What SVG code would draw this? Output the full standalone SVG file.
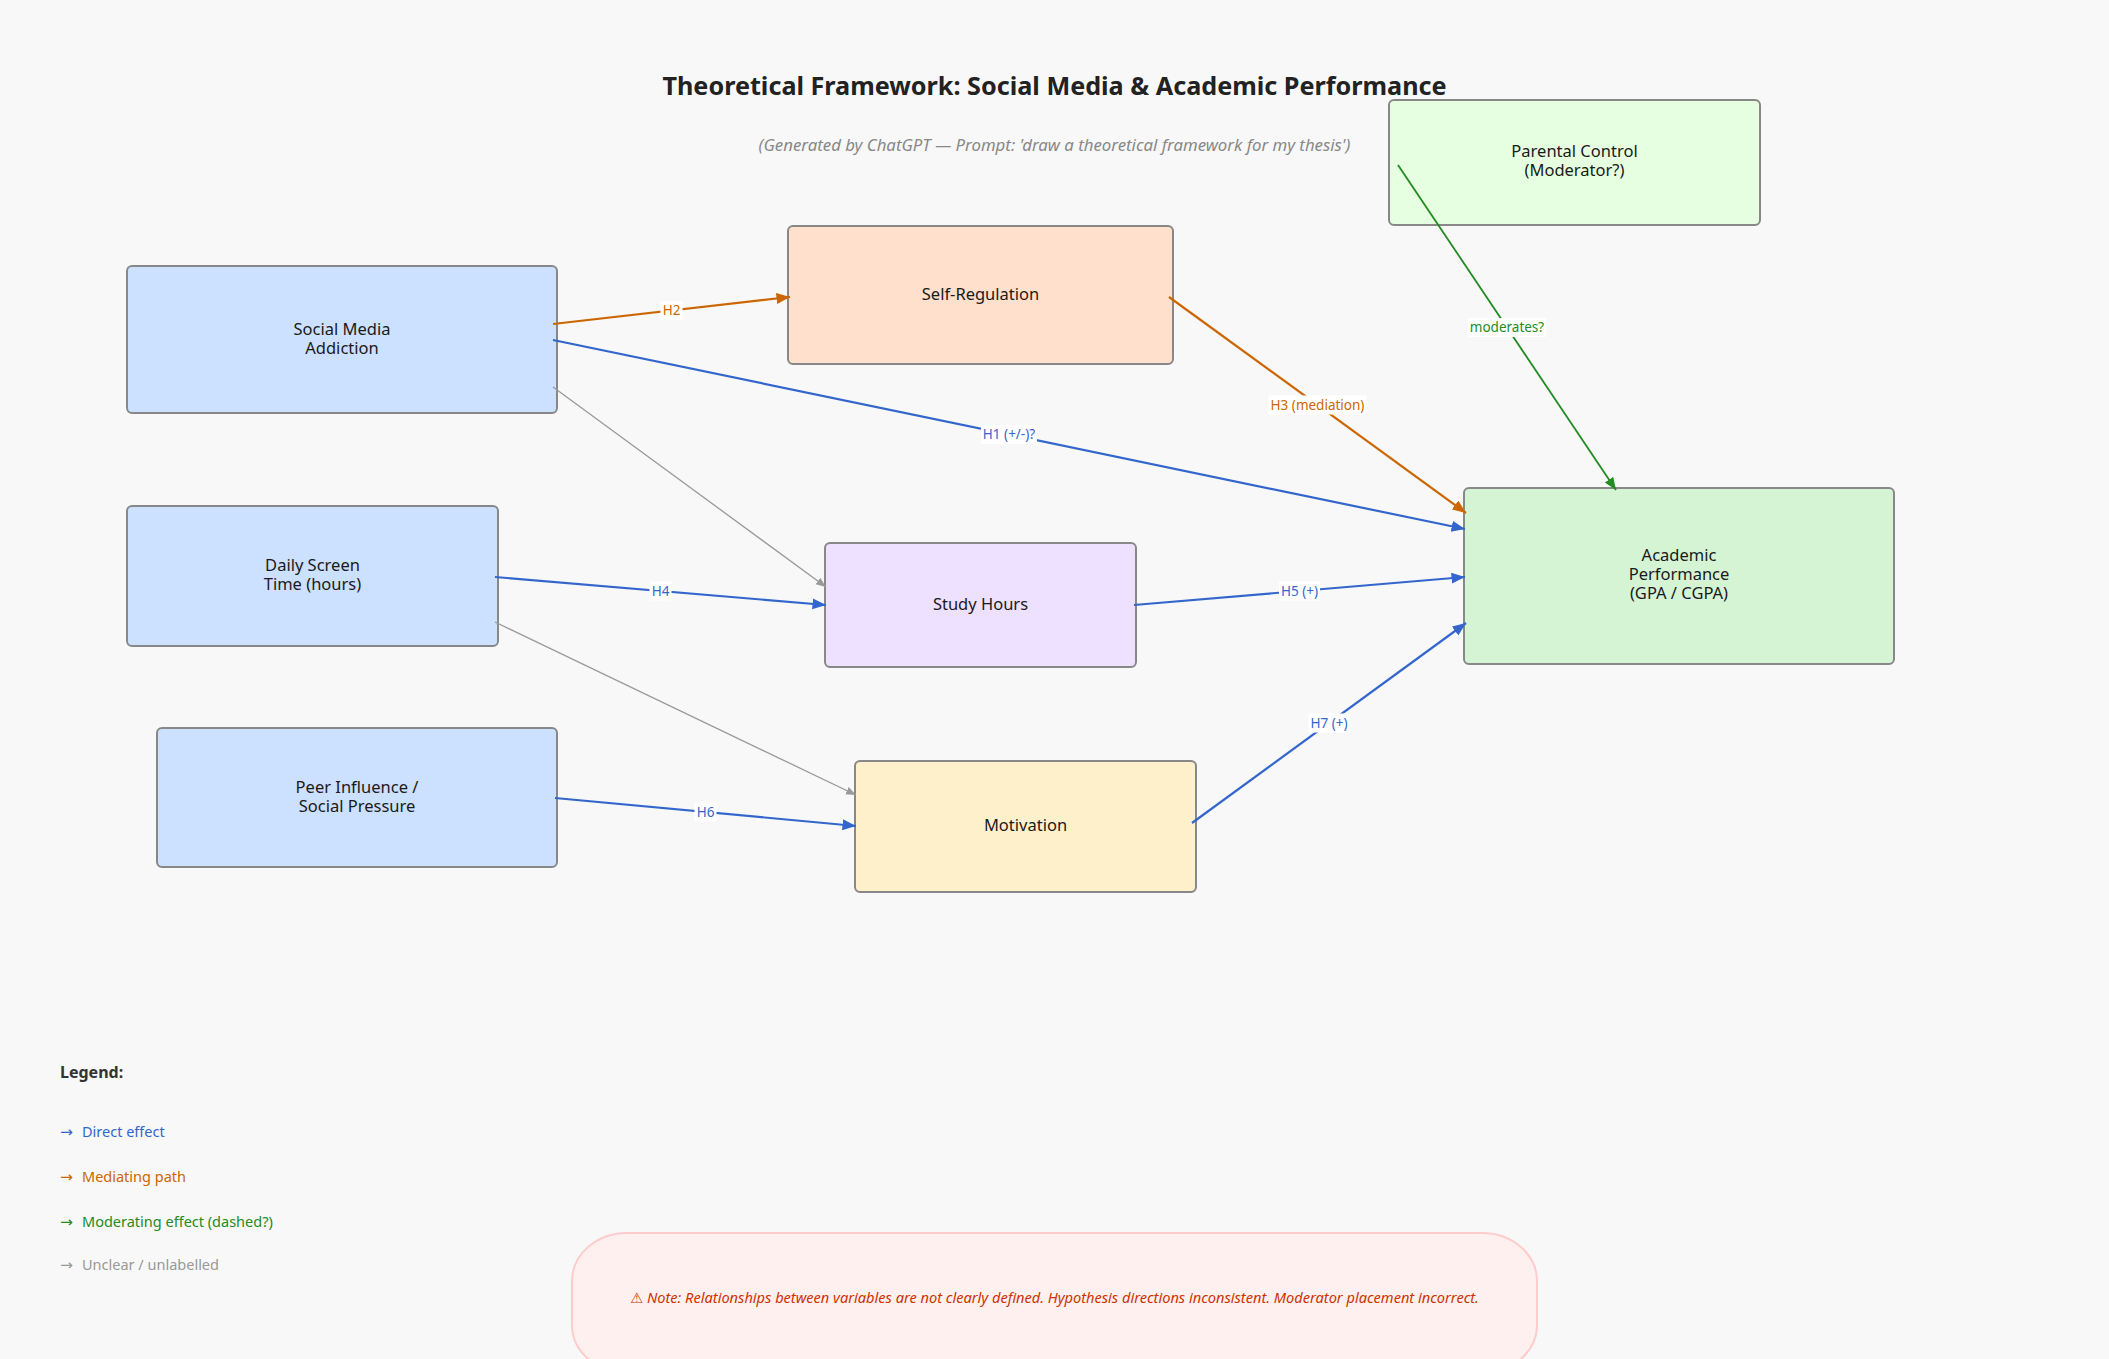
<svg xmlns="http://www.w3.org/2000/svg" width="2109" height="1359" viewBox="0 0 2109 1359">
<defs>
<style>
.t{font-family:"Noto Sans","Open Sans","DejaVu Sans",sans-serif}
.node rect{stroke:#888888;stroke-width:2}
.node text{font-family:"Noto Sans","Open Sans","DejaVu Sans",sans-serif;font-size:16.5px;fill:#1a1a1a;text-anchor:middle}
.lbl rect{fill:#ffffff}
.lbl text{font-family:"Noto Sans","Open Sans","DejaVu Sans",sans-serif;font-size:13.5px;text-anchor:middle}
.blue{stroke:#3366cc;stroke-width:2.2;fill:none}
.orange{stroke:#cc6600;stroke-width:2.2;fill:none}
.green{stroke:#228b22;stroke-width:1.8;fill:none}
.gray{stroke:#999999;stroke-width:1.3;fill:none}
.leg{font-family:"Noto Sans","Open Sans","DejaVu Sans",sans-serif;font-size:14.5px}
</style>
<marker id="aBlue" markerUnits="userSpaceOnUse" markerWidth="15" markerHeight="12" refX="13.5" refY="5.5" orient="auto"><path d="M0,0 L13.5,5.5 L0,11 z" fill="#3366cc"/></marker>
<marker id="aOrange" markerUnits="userSpaceOnUse" markerWidth="15" markerHeight="12" refX="13.5" refY="5.5" orient="auto"><path d="M0,0 L13.5,5.5 L0,11 z" fill="#cc6600"/></marker>
<marker id="aGreen" markerUnits="userSpaceOnUse" markerWidth="14" markerHeight="12" refX="12.5" refY="5" orient="auto"><path d="M0,0 L12.5,5 L0,10 z" fill="#228b22"/></marker>
<marker id="aGray" markerUnits="userSpaceOnUse" markerWidth="12" markerHeight="10" refX="10" refY="4" orient="auto"><path d="M0,0 L10,4 L0,8 z" fill="#999999"/></marker>
</defs>
<rect x="0" y="0" width="2109" height="1359" fill="#f8f8f8"/>

<g id="title">
<text class="t" x="1054.5" y="95" font-size="25.2" font-weight="bold" fill="#222222" text-anchor="middle">Theoretical Framework: Social Media &amp; Academic Performance</text>
<text class="t" x="1054.5" y="151" font-size="16.8" font-style="italic" fill="#888888" text-anchor="middle">(Generated by ChatGPT — Prompt: 'draw a theoretical framework for my thesis')</text>
</g>

<g id="node-social-media" class="node">
<rect x="127" y="266" width="430" height="147" rx="5" fill="#cce0ff"/>
<text x="342" y="334.5">Social Media</text>
<text x="342" y="353.5">Addiction</text>
</g>
<g id="node-self-regulation" class="node">
<rect x="788" y="226" width="385" height="138" rx="5" fill="#ffe0cc"/>
<text x="980.5" y="299.5">Self-Regulation</text>
</g>
<g id="node-parental-control" class="node">
<rect x="1389" y="100" width="371" height="125" rx="5" fill="#e6ffe0"/>
<text x="1574.5" y="157">Parental Control</text>
<text x="1574.5" y="176">(Moderator?)</text>
</g>
<g id="node-daily-screen" class="node">
<rect x="127" y="506" width="371" height="140" rx="5" fill="#cce0ff"/>
<text x="312.5" y="571">Daily Screen</text>
<text x="312.5" y="590">Time (hours)</text>
</g>
<g id="node-study-hours" class="node">
<rect x="825" y="543" width="311" height="124" rx="5" fill="#eee0ff"/>
<text x="980.5" y="609.5">Study Hours</text>
</g>
<g id="node-academic" class="node">
<rect x="1464" y="488" width="430" height="176" rx="5" fill="#d4f4d4"/>
<text x="1679" y="561">Academic</text>
<text x="1679" y="580">Performance</text>
<text x="1679" y="599">(GPA / CGPA)</text>
</g>
<g id="node-peer" class="node">
<rect x="157" y="728" width="400" height="139" rx="5" fill="#cce0ff"/>
<text x="357" y="793">Peer Influence /</text>
<text x="357" y="812">Social Pressure</text>
</g>
<g id="node-motivation" class="node">
<rect x="855" y="761" width="341" height="131" rx="5" fill="#fff0cc"/>
<text x="1025.5" y="831">Motivation</text>
</g>

<g id="connectors">
<line class="orange" x1="553" y1="324" x2="790" y2="297" marker-end="url(#aOrange)"/>
<line class="blue" x1="553" y1="340" x2="1465" y2="529" marker-end="url(#aBlue)"/>
<line class="gray" x1="553" y1="387" x2="826" y2="587" marker-end="url(#aGray)"/>
<line class="orange" x1="1169" y1="297" x2="1466" y2="513" marker-end="url(#aOrange)"/>
<line class="green" x1="1398" y1="165" x2="1616" y2="490" marker-end="url(#aGreen)"/>
<line class="blue" x1="495" y1="577" x2="826" y2="605" marker-end="url(#aBlue)"/>
<line class="gray" x1="495" y1="622" x2="856" y2="795" marker-end="url(#aGray)"/>
<line class="blue" x1="1134" y1="605" x2="1465" y2="577" marker-end="url(#aBlue)"/>
<line class="blue" x1="555" y1="798" x2="856" y2="826" marker-end="url(#aBlue)"/>
<line class="blue" x1="1192" y1="823" x2="1466" y2="623" marker-end="url(#aBlue)"/>

<g class="lbl">
<rect x="660.5" y="301" width="22" height="19"/><text x="671.5" y="315" fill="#cc6600">H2</text>
<rect x="981" y="425" width="56" height="19"/><text x="1009" y="439" fill="#3366cc">H1 (+/-)?</text>
<rect x="1268.5" y="395.5" width="98" height="19"/><text x="1317.5" y="409.5" fill="#cc6600">H3 (mediation)</text>
<rect x="1468" y="318" width="78" height="19"/><text x="1507" y="332" fill="#228b22">moderates?</text>
<rect x="649.5" y="581.5" width="22" height="19"/><text x="660.5" y="595.5" fill="#3366cc">H4</text>
<rect x="1279" y="581.5" width="41" height="19"/><text x="1299.5" y="595.5" fill="#3366cc">H5 (+)</text>
<rect x="694.5" y="802.5" width="22" height="19"/><text x="705.5" y="816.5" fill="#3366cc">H6</text>
<rect x="1308.5" y="713.5" width="41" height="19"/><text x="1329" y="727.5" fill="#3366cc">H7 (+)</text>
</g>
</g>

<g id="legend">
<text class="t" x="60" y="1078" font-size="16" font-weight="bold" fill="#333333">Legend:</text>
<text class="leg" x="60" y="1137" fill="#3366cc" textLength="13" lengthAdjust="spacingAndGlyphs">→</text>
<text class="leg" x="82" y="1137" fill="#3366cc">Direct effect</text>
<text class="leg" x="60" y="1182" fill="#cc6600" textLength="13" lengthAdjust="spacingAndGlyphs">→</text>
<text class="leg" x="82" y="1182" fill="#cc6600">Mediating path</text>
<text class="leg" x="60" y="1227" fill="#228b22" textLength="13" lengthAdjust="spacingAndGlyphs">→</text>
<text class="leg" x="82" y="1227" fill="#228b22">Moderating effect (dashed?)</text>
<text class="leg" x="60" y="1270" fill="#999999" textLength="13" lengthAdjust="spacingAndGlyphs">→</text>
<text class="leg" x="82" y="1270" fill="#999999">Unclear / unlabelled</text>
</g>

<g id="note">
<rect x="572" y="1233" width="965" height="140" rx="55" ry="48" fill="#fff0f0" stroke="#ffcccc" stroke-width="2"/>
<text class="t" x="1054.5" y="1303" font-size="14.6" font-style="italic" fill="#cc3300" text-anchor="middle">⚠ Note: Relationships between variables are not clearly defined. Hypothesis directions inconsistent. Moderator placement incorrect.</text>
</g>
</svg>
